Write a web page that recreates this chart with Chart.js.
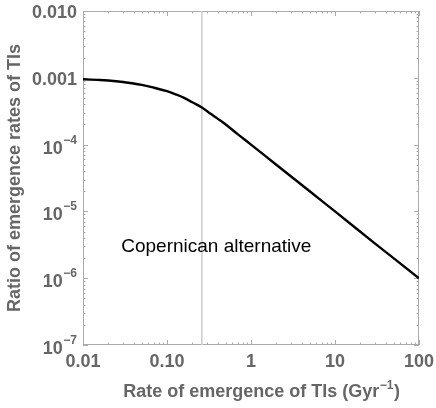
<!DOCTYPE html>
<html>
<head>
<meta charset="utf-8">
<title>Ratio of emergence rates of TIs</title>
<script src="https://cdn.jsdelivr.net/npm/chart.js@4"></script>
<style>
  html, body { margin: 0; padding: 0; background: #fff; }
</style>
</head>
<body>
<canvas id="chart" width="436" height="408"></canvas>
<script>
/* ---------- Data ---------- */
const rateX  = [0.01, 0.015, 0.02, 0.03, 0.04, 0.05, 0.07, 0.1, 0.13, 0.16, 0.2, 0.26, 0.33, 0.4, 0.5, 0.7, 1, 2, 5, 10, 30, 100];
const ratioY = [9.5e-4, 9.3e-4, 9.1e-4, 8.65e-4, 8.2e-4, 7.85e-4, 7.1e-4, 6.3e-4, 5.6e-4, 5.0e-4, 4.3e-4, 3.6e-4, 2.9e-4, 2.45e-4, 2.0e-4, 1.42e-4, 1.0e-4, 5.0e-5, 2.0e-5, 1.0e-5, 3.3e-6, 1.0e-6];

// vertical marker line (Copernican alternative)
const markerX = [0.26, 0.26];
const markerY = [1e-7, 1e-2];

const noteText = 'Copernican alternative';
const noteAt   = [0.386, 2.5e-6];

/* ---------- Tick labels ---------- */
const xTickValues = [0.01, 0.1, 1, 10, 100];
const xTickLabels = ['0.01', '0.10', '1', '10', '100'];
const yTickValues = [1e-2, 1e-3, 1e-4, 1e-5, 1e-6, 1e-7];
const yTickBase   = ['0.010', '0.001', '10', '10', '10', '10'];
const yTickExp    = ['', '', '\u22124', '\u22125', '\u22126', '\u22127'];

const FONT  = "'Liberation Sans', Arial, sans-serif";
const GRAY  = '#666666';
const FRAME = '#ababab';

/* ---------- Frame, inward ticks and labels ---------- */
const framePlugin = {
    id: 'mathFrame',
    beforeDatasetsDraw(chart) {
        const { ctx, chartArea: a, scales: { x, y } } = chart;
        ctx.save();
        ctx.strokeStyle = FRAME;
        ctx.lineWidth = 1;
        ctx.strokeRect(a.left + 0.5, a.top + 0.5, a.right - a.left - 1, a.bottom - a.top - 1);

        ctx.beginPath();
        // x ticks, bottom and top
        for (let k = -2; k <= 2; k++) {
            for (let m = 1; m <= 9; m++) {
                const v = m * Math.pow(10, k);
                if (v < 0.01 * 0.999 || v > 100 * 1.001) continue;
                const px = Math.round(x.getPixelForValue(v)) + 0.5;
                const len = m === 1 ? 5 : 2.5;
                ctx.moveTo(px, a.bottom); ctx.lineTo(px, a.bottom - len);
                ctx.moveTo(px, a.top);    ctx.lineTo(px, a.top + len);
            }
        }
        // y ticks, left and right
        for (let k = -7; k <= -2; k++) {
            for (let m = 1; m <= 9; m++) {
                const v = m * Math.pow(10, k);
                if (v < 1e-7 * 0.999 || v > 1e-2 * 1.001) continue;
                const py = Math.round(y.getPixelForValue(v)) + 0.5;
                const len = m === 1 ? 5 : 2.5;
                ctx.moveTo(a.left, py);  ctx.lineTo(a.left + len, py);
                ctx.moveTo(a.right, py); ctx.lineTo(a.right - len, py);
            }
        }
        ctx.stroke();
        ctx.restore();
    },
    afterDraw(chart) {
        const { ctx, chartArea: a, scales: { x, y } } = chart;
        ctx.save();
        ctx.fillStyle = GRAY;

        // x tick labels
        ctx.font = 'bold 18px ' + FONT;
        ctx.textAlign = 'center';
        ctx.textBaseline = 'alphabetic';
        xTickValues.forEach((v, i) => {
            ctx.fillText(xTickLabels[i], x.getPixelForValue(v), a.bottom + 22);
        });

        // y tick labels (with superscript exponent)
        const right = a.left - 6;
        yTickValues.forEach((v, i) => {
            const py = y.getPixelForValue(v);
            ctx.textAlign = 'right';
            if (yTickExp[i]) {
                ctx.font = 'bold 12px ' + FONT;
                const ew = ctx.measureText(yTickExp[i]).width;
                ctx.fillText(yTickExp[i], right, py - 1);
                ctx.font = 'bold 18px ' + FONT;
                ctx.fillText(yTickBase[i], right - ew - 0.5, py + 9);
            } else {
                ctx.font = 'bold 18px ' + FONT;
                ctx.fillText(yTickBase[i], right, py + 7);
            }
        });

        // x axis title with Gyr^-1
        const t1 = 'Rate of emergence of TIs (Gyr', sup = '\u22121', t2 = ')';
        ctx.font = 'bold 18px ' + FONT;
        const w1 = ctx.measureText(t1).width, w2 = ctx.measureText(t2).width;
        ctx.font = 'bold 12px ' + FONT;
        const ws = ctx.measureText(sup).width;
        let sx = 261 - (w1 + ws + w2) / 2;
        const by = a.bottom + 52;
        ctx.textAlign = 'left';
        ctx.font = 'bold 18px ' + FONT;
        ctx.fillText(t1, sx, by);
        ctx.font = 'bold 12px ' + FONT;
        ctx.fillText(sup, sx + w1 + 0.5, by - 8);
        ctx.font = 'bold 18px ' + FONT;
        ctx.fillText(t2, sx + w1 + ws + 1, by);

        // y axis title
        ctx.save();
        ctx.translate(20, (a.top + a.bottom) / 2);
        ctx.rotate(-Math.PI / 2);
        ctx.textAlign = 'center';
        ctx.fillText('Ratio of emergence rates of TIs', 0, 0);
        ctx.restore();

        // in-plot note
        ctx.fillStyle = '#000';
        ctx.font = '19px ' + FONT;
        ctx.textAlign = 'center';
        ctx.fillText(noteText, x.getPixelForValue(noteAt[0]), y.getPixelForValue(noteAt[1]));
        ctx.restore();
    }
};

/* ---------- Chart ---------- */
new Chart(document.getElementById('chart'), {
    type: 'scatter',
    data: {
        datasets: [{
            label: 'ratio',
            data: rateX.map((v, i) => ({ x: v, y: ratioY[i] })),
            showLine: true,
            borderColor: '#000',
            borderWidth: 2.4,
            pointRadius: 0,
            tension: 0.4,
            order: 0
        }, {
            label: 'marker',
            data: markerX.map((v, i) => ({ x: v, y: markerY[i] })),
            showLine: true,
            borderColor: '#cfcfcf',
            borderWidth: 1.6,
            pointRadius: 0,
            order: 1
        }]
    },
    options: {
        responsive: false,
        animation: false,
        devicePixelRatio: 1,
        layout: { padding: { left: 83, right: 17, top: 11, bottom: 63 } },
        plugins: { legend: { display: false }, tooltip: { enabled: false } },
        scales: {
            x: { type: 'logarithmic', min: 0.01, max: 100, display: false },
            y: { type: 'logarithmic', min: 1e-7, max: 1e-2, display: false }
        }
    },
    plugins: [framePlugin]
});
</script>
</body>
</html>
